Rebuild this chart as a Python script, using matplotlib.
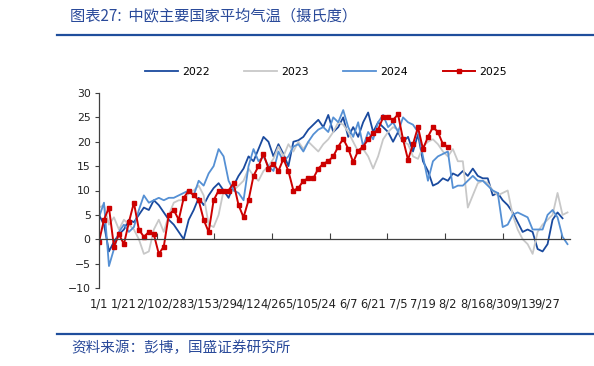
import matplotlib
matplotlib.use('Agg')
from matplotlib import pyplot as plt
from matplotlib.lines import Line2D
import numpy as np

plt.rcParams['font.family'] = ['DejaVu Sans']

# x labels (one every 10 categories), series sampled every 2 categories
labels = ['1/1', '1/21', '2/10', '2/28', '3/15', '3/29', '4/12', '4/26', '5/10', '5/24',
          '6/7', '6/21', '7/5', '7/19', '8/2', '8/16', '8/30', '9/13', '9/27']
step = 2

y2022 = [5, 3, -2.5, -0.5, 1, 2, 4, 3.5, 5, 6.5,
         6, 8, 7, 5.5, 4, 3, 1.5, 0, 4, 6,
         8.5, 7, 9, 10.5, 11.5, 10, 8.5, 11, 13, 14.5,
         17, 16, 18.5, 21, 20, 17, 19.5, 17.5, 15, 20,
         20.3, 21, 22.5, 23.5, 24.5, 23, 25.5, 22, 23, 25,
         21, 23, 21, 24, 26, 22, 24, 23, 22, 20,
         22, 20, 21, 18, 21.5, 16, 14, 11, 11.5, 12.5,
         12, 13.5, 13, 14, 13, 14.5, 13, 12.5, 12.5, 9,
         9.5, 8, 7, 5.5, 3.5, 1.5, 2, 1.5, -2, -2.5,
         -1, 4, 5.5, 4.3]

y2023 = [6.5, 7, 3, 4.5, 2, 4, 3, 2, 0, -3,
         -2.5, 2, 4, 1.5, 5, 7.5, 8, 8, 9.5, 10,
         11, 9, 3, 2.5, 5, 10, 9.5, 10, 11, 12,
         14.5, 13, 12, 14, 15, 16.5, 19, 17, 19.5, 18,
         20, 18.5, 20, 19, 18, 19.5, 20.5, 22, 24, 23.5,
         22, 20, 18, 18.5, 17, 14.5, 17, 20.5, 22, 23,
         22.5, 20, 19.5, 17, 16.5, 19, 20, 20.5, 19.5, 18,
         17, 18.5, 16, 16, 6.5, 9, 11.5, 12, 11.5, 10,
         9, 9.5, 10, 5, 2, 0, -1, -3, 1.5, 3,
         4, 5, 9.5, 5, 5.5]

y2024 = [4.5, 7.5, -5.5, -2, 1.5, 3, 1.5, 2.5, 6, 9,
         7.5, 8, 8.5, 8, 8.5, 8.5, 9, 9.5, 10, 9,
         12, 11, 13.5, 15, 18.5, 17, 12, 10, 9.5, 8,
         15, 18.5, 16, 17, 15, 14, 18, 16, 17, 19,
         19.5, 18, 20, 21.5, 22.5, 23, 22, 25, 24, 26.5,
         23, 21, 24, 19, 22, 20.5, 24, 25.5, 23, 24,
         22, 25, 24, 23.5, 22, 17, 12, 16, 17, 17.5,
         18, 10.5, 11, 11, 12, 13, 12, 12, 11, 10,
         9.5, 2.5, 3, 5, 5.5, 5, 4.5, 2, 2, 2,
         5, 6, 4.5, 0.5, -1]

y2025 = [-0.5, 4, 6.5, -1.5, 1, -1, 3.5, 7.5, 2, 0.5,
         1.5, 1, -3, -1.5, 5, 6, 4, 8.5, 10, 9,
         8, 4, 1.5, 8, 10, 10, 10, 11.5, 7, 4.5,
         8, 13, 15, 17.5, 14.5, 15.5, 14, 16.5, 14, 10,
         10.5, 12, 12.5, 12.5, 14.5, 15.5, 16, 17, 19, 20.6,
         18.6, 15.8, 18.2, 19, 20.5, 21.7, 22.5, 25, 25, 24.5,
         25.6, 20.5, 16.3, 19.5, 23, 18.5, 21, 23, 22, 19.5,
         19]

fig = plt.figure(figsize=(5.94, 3.66), dpi=100)
ax = fig.add_axes([99/594, 78/366, 471/594, 195/366])

ax.plot(np.arange(len(y2022)) * step, y2022, color='#1a4a9e', lw=1.3, label='2022')
ax.plot(np.arange(len(y2023)) * step, y2023, color='#c8c8c8', lw=1.3, label='2023')
ax.plot(np.arange(len(y2024)) * step, y2024, color='#5590d4', lw=1.3, label='2024')
ax.plot(np.arange(len(y2025)) * step, y2025, color='#cc0000', lw=1.4,
        marker='s', ms=2.6, label='2025')

ax.set_xlim(0, 189)
ax.set_ylim(-10, 30)
ax.set_yticks(np.arange(-10, 31, 5))

for s in ['top', 'right']:
    ax.spines[s].set_visible(False)
ax.spines['bottom'].set_position(('data', 0))
ax.spines['bottom'].set_color('#404040')
ax.spines['left'].set_color('#404040')
ax.spines['bottom'].set_linewidth(0.9)
ax.spines['left'].set_linewidth(0.9)

# tick marks on the zero line, labels at the bottom
ax.set_xticks(np.arange(23.15, 189, 23.15))
ax.tick_params(axis='x', direction='in', length=4, labelbottom=False, color='#404040')
ax.tick_params(axis='y', direction='out', length=3, labelsize=7.8, pad=3,
               color='#404040', labelcolor='#222222')

sec = ax.secondary_xaxis('bottom')
sec.set_xticks(np.arange(len(labels)) * 10, labels)
sec.tick_params(length=0, pad=7, labelsize=8.3, labelcolor='#222222')
sec.spines['bottom'].set_visible(False)

ax.legend(ncol=4, frameon=False, loc='center', bbox_to_anchor=(0.549, 0.803),
          bbox_transform=fig.transFigure, fontsize=7.8, handlelength=3,
          columnspacing=3.2, handletextpad=0.4)

# title, rules and source
cjk = ['Noto Sans CJK SC', 'DejaVu Sans']
fig.text(70/594, 1 - 16/366, '图表27:  中欧主要国家平均气温（摄氏度）', family=cjk,
         fontsize=11, color='#2a4a9a', va='center')
fig.add_artist(Line2D([57/594, 1], [1 - 35/366, 1 - 35/366], transform=fig.transFigure,
                      color='#1f4e9c', lw=1.6))
fig.add_artist(Line2D([57/594, 1], [1 - 334/366, 1 - 334/366], transform=fig.transFigure,
                      color='#1f4e9c', lw=1.6))
fig.text(71/594, 1 - 348/366, '资料来源：彭博，国盛证券研究所', family=cjk,
         fontsize=10.5, color='#2a4a9a', va='center')

fig.savefig('out.png', dpi=100)
